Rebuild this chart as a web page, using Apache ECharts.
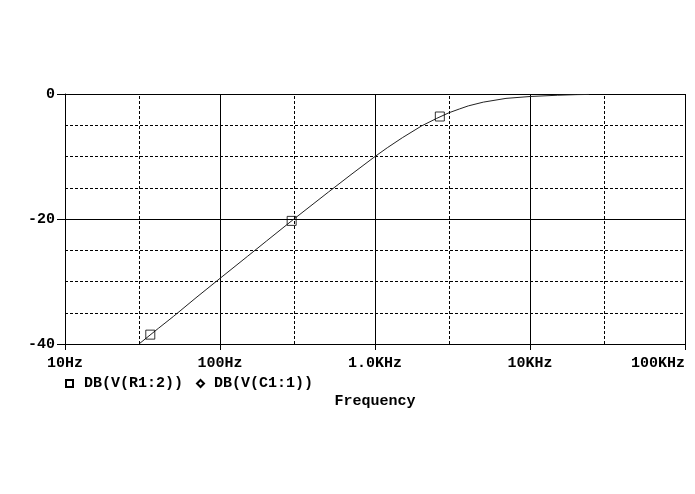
<!DOCTYPE html>
<html>
<head>
<meta charset="utf-8">
<script src="https://cdn.jsdelivr.net/npm/echarts@6/dist/echarts.min.js"></script>
<style>
  html, body { margin: 0; padding: 0; background: #fff; }
  #chart { width: 695px; height: 494px; }
</style>
</head>
<body>
<div id="chart"></div>
<script>
// Frequency response
const freqHz = [30, 40, 50, 70, 100, 150, 200, 300, 500, 700, 1000, 1200, 1500, 2000, 2500, 3000, 3500, 4000, 5000, 7000, 10000, 15000, 20000, 24000];
const dbR1 = [-40.0, -37.5, -35.6, -32.6, -29.5, -26.0, -23.5, -20.0, -15.7, -12.9, -10.0, -8.6, -7.0, -5.1, -3.9, -3.0, -2.4, -1.9, -1.3, -0.7, -0.4, -0.2, -0.1, -0.07];
// Marker symbols placed on the trace
const markerHz = [35.5, 290, 2620];
const markerDb = [-38.5, -20.3, -3.6];
// Axis tick labels
const xTickValues = [10, 100, 1000, 10000, 100000];
const xTickLabels = ['10Hz', '100Hz', '1.0KHz', '10KHz', '100KHz'];
const yTickValues = [0, -20, -40];
const yTickLabels = ['0', '-20', '-40'];
const minorXLines = [30, 300, 3000, 30000];
const seriesNames = ['DB(V(R1:2))', 'DB(V(C1:1))'];

const FONT = 'Liberation Mono';
const labelStyle = { fontFamily: FONT, fontWeight: 'bold', fontSize: 15, color: '#000' };
const DASH = [3, 2];

const chart = echarts.init(document.getElementById('chart'), null, { renderer: 'canvas' });
chart.setOption({
  animation: false,
  backgroundColor: '#fff',
  grid: { left: 65, right: 10, top: 94, bottom: 150, containLabel: false },
  legend: {
    left: 65, top: 376, padding: 0,
    itemWidth: 7, itemHeight: 7, itemGap: 13,
    textStyle: { ...labelStyle, rich: { t: { ...labelStyle, padding: [0, 0, 0, 6] }, u: { ...labelStyle, padding: [0, 0, 0, 5] } } },
    formatter: name => (name === seriesNames[0] ? '{t|' : '{u|') + name + '}',
    data: [
      { name: seriesNames[0], icon: 'emptyRect', itemStyle: { borderWidth: 1 } },
      { name: seriesNames[1], icon: 'emptyDiamond', itemStyle: { borderWidth: 1 } }
    ],
    selectedMode: false
  },
  xAxis: {
    type: 'log', logBase: 10, min: 10, max: 100000,
    name: 'Frequency', nameLocation: 'middle', nameGap: 50,
    nameTextStyle: labelStyle,
    axisLine: { show: true, onZero: false, lineStyle: { color: '#000', width: 1 } },
    axisTick: { show: true, length: 6, lineStyle: { color: '#000' } },
    axisLabel: {
      ...labelStyle, margin: 12, alignMaxLabel: 'right',
      formatter: v => { const i = xTickValues.findIndex(t => Math.abs(t - v) / t < 1e-6); return i >= 0 ? xTickLabels[i] : ''; }
    },
    splitLine: { show: true, lineStyle: { color: '#000', width: 1, type: 'solid' } },
    minorTick: { show: false }
  },
  yAxis: {
    type: 'value', min: -40, max: 0, interval: 20,
    axisLine: { show: true, lineStyle: { color: '#000', width: 1 } },
    axisTick: { show: true, length: 8, lineStyle: { color: '#000' } },
    axisLabel: {
      ...labelStyle, margin: 10,
      formatter: v => { const i = yTickValues.indexOf(v); return i >= 0 ? yTickLabels[i] : ''; }
    },
    splitLine: { show: true, lineStyle: { color: '#000', width: 1, type: 'solid' } },
    minorTick: { show: false, splitNumber: 4 },
    minorSplitLine: { show: true, lineStyle: { color: '#000', width: 1, type: DASH } }
  },
  series: [
    {
      name: seriesNames[0], type: 'line',
      data: freqHz.map((f, i) => [f, dbR1[i]]),
      symbol: 'none', smooth: false,
      lineStyle: { color: '#222', width: 1 },
      itemStyle: { color: '#000' },
      markLine: {
        silent: true, symbol: 'none', label: { show: false },
        lineStyle: { color: '#000', width: 1, type: DASH },
        data: minorXLines.map(x => ({ xAxis: x }))
      },
      z: 3
    },
    {
      name: seriesNames[0], type: 'scatter',
      data: markerHz.map((f, i) => [f, markerDb[i]]),
      symbol: 'rect', symbolSize: 9,
      itemStyle: { color: 'rgba(0,0,0,0)', borderColor: '#000', borderWidth: 1 },
      z: 4
    },
    {
      name: seriesNames[1], type: 'line', data: [],
      symbol: 'emptyDiamond', lineStyle: { color: '#000', width: 1 }, itemStyle: { color: '#000' }
    }
  ]
});
</script>
</body>
</html>
